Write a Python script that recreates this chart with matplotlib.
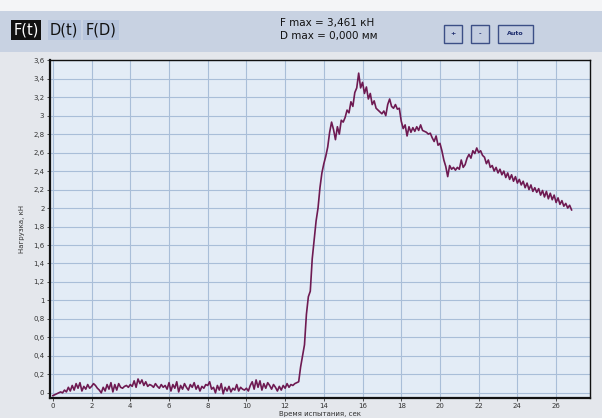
import numpy as np
import matplotlib
matplotlib.use("Agg")
import matplotlib.pyplot as plt
from matplotlib.patches import Rectangle, FancyBboxPatch

# sampling step of the recorder, seconds
dt = 0.1

# load readings, kN, one per 0.1 s starting at t = 0
force = [
    -0.03, -0.02, -0.01, 0.00, 0.01, 0.00, 0.03, 0.01, 0.06, 0.02,
    0.08, 0.03, 0.10, 0.05, 0.11, 0.02, 0.07, 0.04, 0.09, 0.05,
    0.07, 0.10, 0.08, 0.05, 0.03, 0.00, 0.06, 0.02, 0.09, 0.04,
    0.11, 0.01, 0.09, 0.03, 0.10, 0.06, 0.05, 0.07, 0.08, 0.06,
    0.09, 0.07, 0.13, 0.06, 0.15, 0.10, 0.14, 0.08, 0.12, 0.07,
    0.09, 0.08, 0.06, 0.10, 0.07, 0.05, 0.09, 0.06, 0.08, 0.04,
    0.11, 0.02, 0.09, 0.05, 0.12, 0.01, 0.08, 0.04, 0.10, 0.06,
    0.03, 0.09, 0.06, 0.11, 0.04, 0.08, 0.02, 0.07, 0.05, 0.09,
    0.08, 0.12, 0.04, 0.06, 0.00, 0.08, 0.03, 0.10, -0.01, 0.06,
    0.02, 0.07, 0.01, 0.05, 0.03, 0.09, 0.02, 0.06, 0.04, 0.03,
    0.05, 0.02, 0.08, 0.12, 0.04, 0.14, 0.06, 0.13, 0.03, 0.10,
    0.05, 0.11, 0.08, 0.04, 0.09, 0.06, 0.02, 0.07, 0.03, 0.08,
    0.05, 0.10, 0.06, 0.09, 0.08, 0.10, 0.11, 0.12, 0.28, 0.40,
    0.52, 0.85, 1.04, 1.10, 1.45, 1.66, 1.86, 2.00, 2.22, 2.38,
    2.48, 2.56, 2.66, 2.82, 2.93, 2.85, 2.74, 2.88, 2.80, 2.95,
    2.93, 2.98, 3.06, 3.03, 3.15, 3.10, 3.25, 3.30, 3.46, 3.30,
    3.36, 3.24, 3.31, 3.18, 3.24, 3.12, 3.16, 3.08, 3.06, 3.04,
    3.02, 3.05, 3.00, 3.12, 3.18, 3.10, 3.08, 3.12, 3.07, 3.08,
    2.94, 2.86, 2.90, 2.78, 2.88, 2.82, 2.87, 2.83, 2.88, 2.84,
    2.90, 2.84, 2.83, 2.82, 2.80, 2.81, 2.76, 2.72, 2.78, 2.68,
    2.70, 2.62, 2.52, 2.45, 2.34, 2.46, 2.42, 2.44, 2.41, 2.44,
    2.42, 2.52, 2.44, 2.47, 2.54, 2.58, 2.54, 2.62, 2.59, 2.65,
    2.60, 2.62, 2.57, 2.55, 2.48, 2.52, 2.44, 2.46, 2.40, 2.44,
    2.38, 2.42, 2.36, 2.40, 2.33, 2.38, 2.31, 2.36, 2.29, 2.34,
    2.27, 2.31, 2.25, 2.29, 2.22, 2.27, 2.20, 2.25, 2.18, 2.22,
    2.17, 2.21, 2.14, 2.19, 2.12, 2.18, 2.10, 2.16, 2.09, 2.14,
    2.06, 2.11, 2.04, 2.08, 2.02, 2.05, 2.00, 2.03, 1.98,
]
time = np.arange(len(force)) * dt

y_ticks = [0, 0.2, 0.4, 0.6, 0.8, 1, 1.2, 1.4, 1.6, 1.8, 2, 2.2, 2.4, 2.6,
           2.8, 3, 3.2, 3.4, 3.6]
x_ticks = [0, 2, 4, 6, 8, 10, 12, 14, 16, 18, 20, 22, 24, 26]

fig = plt.figure(figsize=(6.02, 4.18), dpi=100, facecolor='#e4e7ec')

# header band of the instrument window
fig.add_artist(Rectangle((0, 0.875), 1, 0.098, transform=fig.transFigure,
                         facecolor='#c8d2e2', edgecolor='none', zorder=0))
fig.add_artist(Rectangle((0, 0.973), 1, 0.027, transform=fig.transFigure,
                         facecolor='#f4f5f7', edgecolor='none', zorder=0))

# tab labels
fig.text(0.022, 0.928, 'F(t)', color='white', fontsize=10.5, va='center',
         bbox=dict(boxstyle='square,pad=0.15', facecolor='#111111', edgecolor='none'))
fig.text(0.083, 0.928, 'D(t)', color='#111111', fontsize=10.5, va='center',
         bbox=dict(boxstyle='square,pad=0.15', facecolor='#b8c6de', edgecolor='none'))
fig.text(0.142, 0.928, 'F(D)', color='#111111', fontsize=10.5, va='center',
         bbox=dict(boxstyle='square,pad=0.15', facecolor='#b8c6de', edgecolor='none'))

fig.text(0.465, 0.946, 'F max = 3,461 кН', fontsize=7.5, va='center', color='#111111')
fig.text(0.465, 0.913, 'D max = 0,000 мм', fontsize=7.5, va='center', color='#111111')

# zoom buttons
for x0, w, label in [(0.737, 0.031, '+'), (0.782, 0.031, '-'), (0.828, 0.057, 'Auto')]:
    fig.add_artist(Rectangle((x0, 0.897), w, 0.044, transform=fig.transFigure,
                             facecolor='#c3cde0', edgecolor='#3c4f86', lw=1.0))
    fig.text(x0 + w / 2, 0.919, label, fontsize=4.5, fontweight='bold',
             ha='center', va='center', color='#1e2d6e')

ax = fig.add_axes([0.083, 0.048, 0.897, 0.808])
ax.set_facecolor('#e3ecf6')
ax.plot(time, force, color='#6e1a52', lw=1.2, zorder=3)

ax.set_xlim(-0.15, 27.75)
ax.set_ylim(-0.055, 3.6)
ax.set_xticks(x_ticks)
ax.set_yticks(y_ticks)
ax.set_yticklabels([('%g' % v).replace('.', ',') for v in y_ticks])
ax.tick_params(labelsize=5, colors='#333333', length=2, width=0.6, pad=2)
ax.grid(True, color='#a9bed8', lw=0.8)
ax.set_axisbelow(True)
for side in ['left', 'bottom', 'top', 'right']:
    ax.spines[side].set_color('#111111')
ax.spines['left'].set_linewidth(1.6)
ax.spines['bottom'].set_linewidth(1.6)
ax.spines['top'].set_linewidth(1.0)
ax.spines['right'].set_linewidth(1.0)

ax.set_ylabel('Нагрузка, кН', fontsize=5, color='#333333', labelpad=6)
ax.set_xlabel('Время испытания, сек', fontsize=5, color='#333333', labelpad=1)

fig.savefig('out.png', dpi=100, facecolor=fig.get_facecolor())
